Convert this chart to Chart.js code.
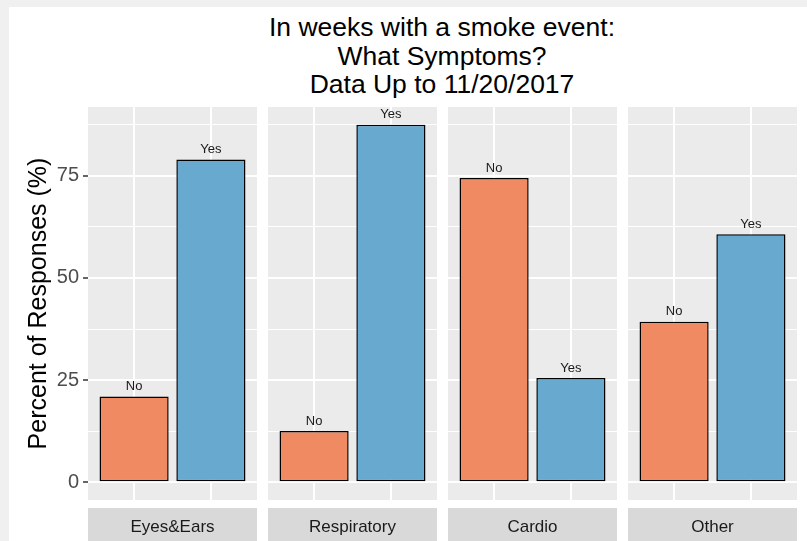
<!DOCTYPE html>
<html>
<head>
<meta charset="utf-8">
<script src="https://cdn.jsdelivr.net/npm/chart.js@4"></script>
<style>
  body { margin: 0; background: #f0f0f0; font-family: "Liberation Sans", Arial, sans-serif; }
  #page { position: relative; width: 807px; height: 541px; overflow: hidden; }
  #sheet { position: absolute; left: 9px; top: 7px; right: 0; bottom: 0; background: #fff; }
  #title { position: absolute; left: 222px; width: 440px; top: 13px; text-align: center;
           font-size: 26.5px; line-height: 28.5px; color: #000; }
  canvas { position: absolute; top: 90px; }
</style>
</head>
<body>
<div id="page">
  <div id="sheet"></div>
  <div id="title">In weeks with a smoke event:<br>What Symptoms?<br>Data Up to 11/20/2017</div>
  <canvas id="panel0" width="257" height="451" style="left:0px"></canvas>
  <canvas id="panel1" width="169" height="451" style="left:268px"></canvas>
  <canvas id="panel2" width="169" height="451" style="left:448px"></canvas>
  <canvas id="panel3" width="169" height="451" style="left:628px"></canvas>
</div>
<script>
// --- data ---
const facets = ['Eyes&Ears', 'Respiratory', 'Cardio', 'Other'];
const answers = ['No', 'Yes'];
const noPct = [21, 12.5, 74.5, 39.3];
const yesPct = [79, 87.5, 25.5, 60.7];
const yTicks = [0, 12.5, 25, 37.5, 50, 62.5, 75, 87.5];
const barColors = ['#ef8a62', '#67a9cf'];

Chart.defaults.font.family = '"Liberation Sans", Arial, sans-serif';

// panel background, labels over bars, facet strip underneath
const facetDecor = {
    id: 'facetDecor',
    beforeDraw(chart) {
        const { ctx, chartArea: a } = chart;
        ctx.save();
        ctx.fillStyle = '#ebebeb';
        ctx.fillRect(a.left, a.top, a.right - a.left, a.bottom - a.top);
        ctx.restore();
    },
    afterDatasetsDraw(chart, args, opts) {
        const { ctx, chartArea: a } = chart;
        const meta = chart.getDatasetMeta(0);
        ctx.save();
        ctx.textAlign = 'center';
        ctx.textBaseline = 'middle';
        ctx.fillStyle = '#1a1a1a';
        ctx.font = '13px "Liberation Sans", Arial, sans-serif';
        meta.data.forEach((bar, i) => ctx.fillText(answers[i], bar.x, bar.y - 10));

        ctx.fillStyle = '#d9d9d9';
        ctx.fillRect(a.left, a.bottom + 8, a.right - a.left, 40);
        ctx.fillStyle = '#1a1a1a';
        ctx.font = '17px "Liberation Sans", Arial, sans-serif';
        ctx.fillText(opts.label, (a.left + a.right) / 2, a.bottom + 27);
        ctx.restore();
    }
};

function makePanel(idx) {
    const first = idx === 0;
    const values = [noPct[idx], yesPct[idx]];
    const ctx = document.getElementById('panel' + idx).getContext('2d');
    new Chart(ctx, {
        type: 'bar',
        data: {
            datasets: [{
                data: answers.map((a, i) => ({ x: i + 1, y: values[i] })),
                backgroundColor: barColors,
                borderColor: '#000',
                borderWidth: 1.5,
                borderSkipped: false,
                barPercentage: 0.9,
                categoryPercentage: 1
            }]
        },
        options: {
            responsive: false,
            animation: false,
            layout: { padding: { top: 17, bottom: 41, left: 0, right: 0 } },
            plugins: {
                legend: { display: false },
                tooltip: { enabled: false },
                facetDecor: { label: facets[idx] }
            },
            scales: {
                x: {
                    type: 'linear',
                    min: 0.4,
                    max: 2.6,
                    offset: false,
                    afterBuildTicks: axis => { axis.ticks = answers.map((a, i) => ({ value: i + 1 })); },
                    afterFit: axis => { axis.height = 0; },
                    ticks: { display: false },
                    grid: { color: '#ffffff', lineWidth: 2, drawTicks: false, offset: false },
                    border: { display: false }
                },
                y: {
                    min: -4.375,
                    max: 91.875,
                    afterBuildTicks: axis => { axis.ticks = yTicks.map(v => ({ value: v })); },
                    afterFit: axis => { axis.width = first ? 88 : 0; },
                    ticks: {
                        display: first,
                        autoSkip: false,
                        padding: 4,
                        color: '#4d4d4d',
                        font: { size: 20 },
                        callback: v => (v % 25 === 0 ? v : '')
                    },
                    grid: {
                        color: '#ffffff',
                        lineWidth: c => (c.tick && c.tick.value % 25 === 0 ? 2 : 1),
                        drawTicks: first,
                        tickLength: 5,
                        tickWidth: 1.5,
                        tickColor: c => (c.tick && c.tick.value % 25 === 0 ? '#333333' : 'rgba(0,0,0,0)')
                    },
                    border: { display: false },
                    title: {
                        display: first,
                        text: 'Percent of Responses (%)',
                        color: '#000',
                        font: { size: 25 },
                        padding: { top: 24, bottom: 0 }
                    }
                }
            }
        },
        plugins: [facetDecor]
    });
}

facets.forEach((f, i) => makePanel(i));
</script>
</body>
</html>
